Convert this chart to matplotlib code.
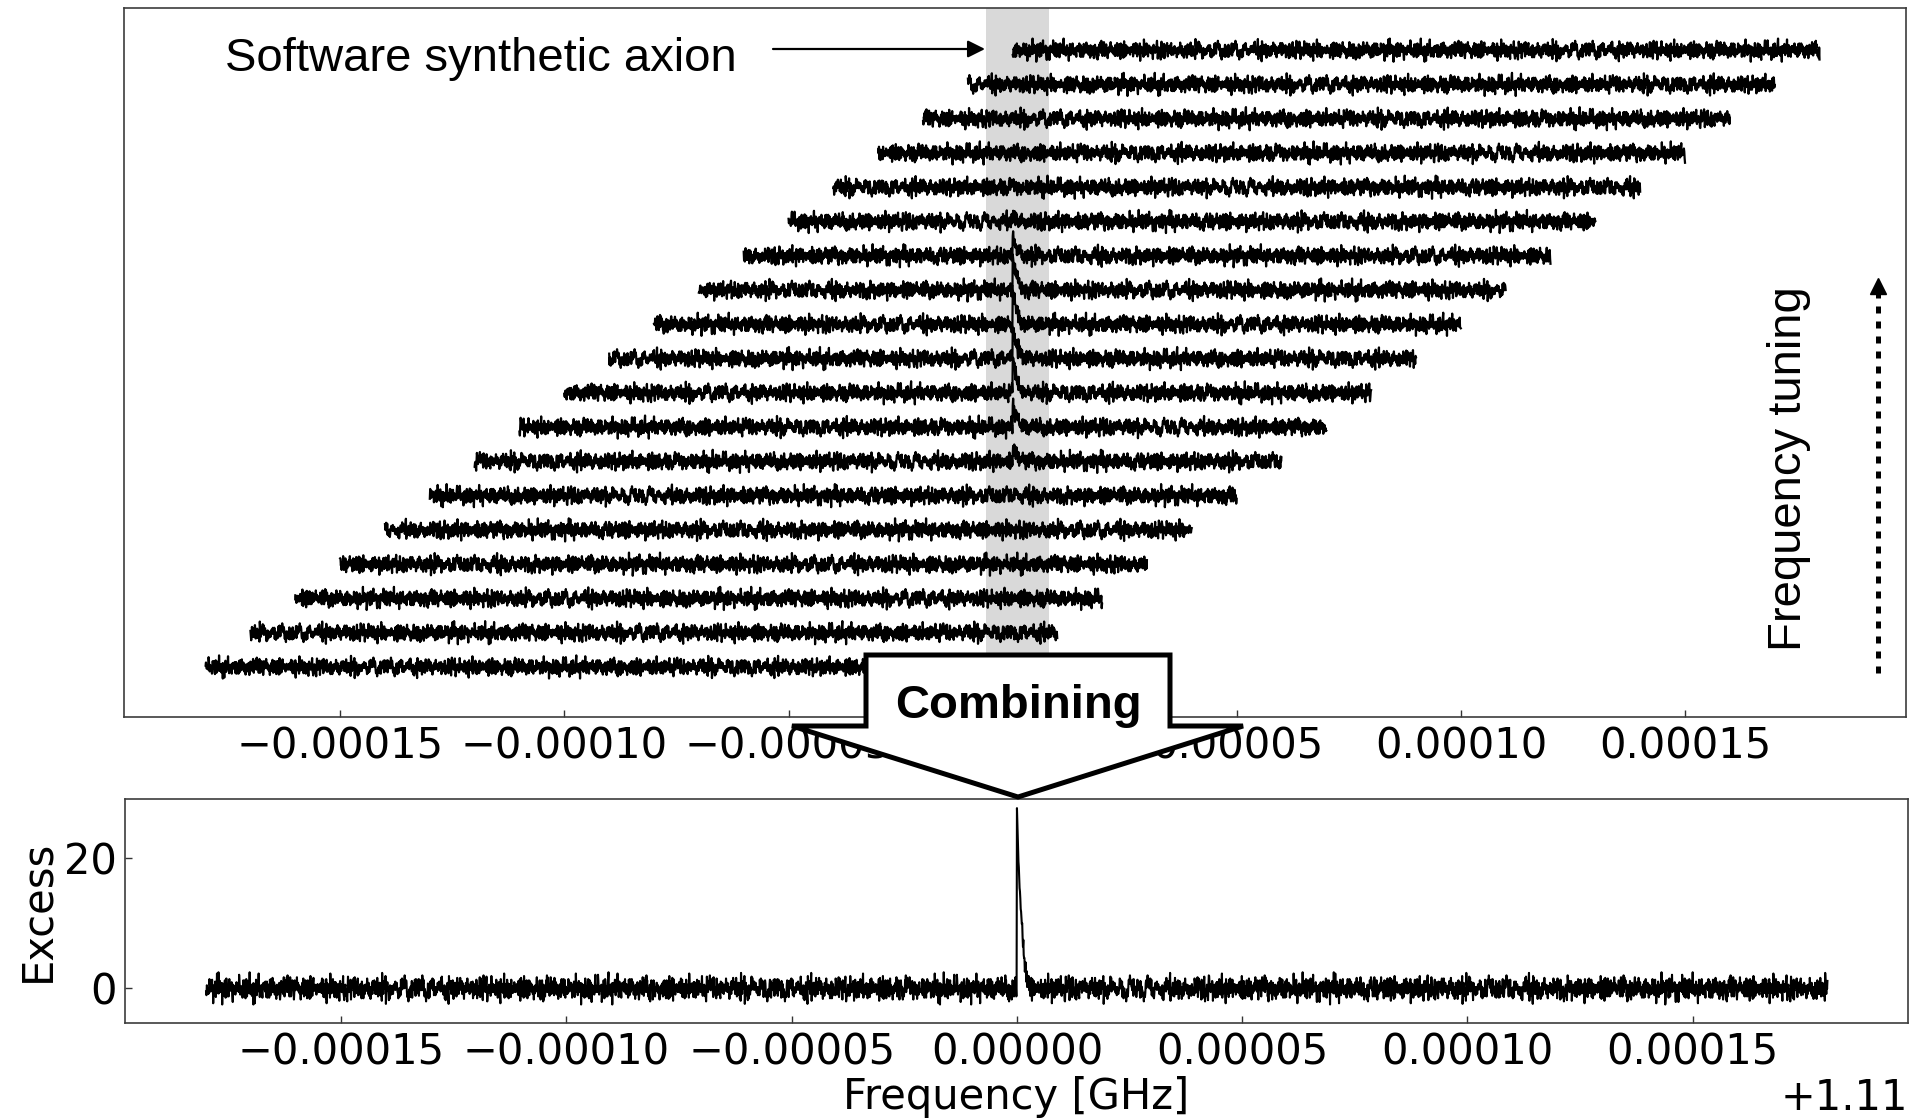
import numpy as np
import matplotlib
matplotlib.use("Agg")
import matplotlib.pyplot as plt
from matplotlib.patches import Polygon, FancyArrowPatch
from matplotlib.lines import Line2D
from matplotlib.ticker import ScalarFormatter

# ---------------------------------------------------------------- data
F0_GHZ = 1.11                      # frequency offset shown on the axis
SCAN_START_KHZ = [-180, -170, -160, -150, -140, -130, -120, -110, -100, -90,
                  -80, -70, -60, -50, -40, -30, -20, -10, 0]
SCAN_SPAN_KHZ = 180
BIN_KHZ = 1 / 12

# relative height of the injected signal in each tuning step (bottom -> top)
PEAK_AMP = [0.0, 0.0, 0.0, 0.0, 0.0, 0.1, 0.45, 0.75, 1.0, 1.05,
            1.0, 0.95, 0.55, 0.2, 0.0, 0.0, 0.0, 0.0, 0.0]
# signal line shape, one value per bin starting at the axion frequency
PEAK_SHAPE = [1.0, 0.92, 0.85, 0.78, 0.72, 0.67, 0.62, 0.57, 0.53, 0.49,
              0.45, 0.41, 0.38, 0.35, 0.32, 0.29, 0.26, 0.235, 0.21, 0.185,
              0.16, 0.14, 0.12, 0.105, 0.09, 0.075, 0.06, 0.05, 0.04, 0.03,
              0.02, 0.015, 0.01]
COMBINED_PEAK = 27.6               # excess of the combined spectrum
COMBINED_RANGE_KHZ = (-180, 180)

BAND_KHZ = (-6, 8)                 # shaded region around the signal
XTICKS_KHZ = [-150, -100, -50, 0, 50, 100, 150]
YTICKS_EXCESS = [0, 20]

# measured baseline fluctuations (tenths of one standard deviation)
NOISE = [
    3, -8, 12, 5, -2, -14, 7, 0, -6, 18, 4, 9, -11, -4, -1, 15, -7, 2, -19, 6,
    10, 4, -9, 13, 1, -5, -8, -16, 11, -2, 3, 21, -8, -1, 6, -12, 4, 9, 3, -7,
    14, -10, 2, 5, -24, 8, -1, 12, 6, 3, 7, -13, 0, 17, -4, -9, -6, 1, -15, 10,
    -2, 4, 26, -5, -11, 7, 2, -8, 13, 3, 9, -1, -17, 5, 11, -6, 0, 8, -12, -3,
    16, -7, -2, 10, -20, 4, 6, -9, 1, 12, -4, 7, -14, 2, 19, -3, -8, 5, 9, -1,
    -6, 13, 3, -10, 0, 8, -5, 15, -12, 4, 2, -18, 7, 10, -3, -7, 11, 1, -13, 6,
    22, -2, -9, 4, 8, -15, 3, 12, -6, 0, 5, -11, 9, -4, 14, -8, 1, 7, -21, 10,
    -1, 6, -5, 17, -9, 2, 11, -3, -14, 8, 4, -7, 13, 0, -10, 5, 9, -2, 16, -12,
    3, -6, 20, 1, -8, 7, -4, 10, -16, 2, 12, -1, -9, 6, 15, -5, -3, 8, -13, 4,
    0, 11, -7, 24, -2, -11, 5, 9, -4, 13, -18, 3, 7, -6, 1, 10, -15, 6, -3, 18,
    -8, 2, 12, -10, 4, -5, 9, 0, -12, 14, 3, -7, 8, -2, -17, 11, 5, -4, 6, -9,
    16, -1, -6, 10, 2, -14, 7, -3, 13, -8, 1, 21, -5, 4, -11, 9, -2, 6, -16, 12,
    -4, 3, 8, -9, 15, -1, -7, 11, 0, -13, 5, 2, -20, 10, 7, -6, 14, -3, 1, -10,
    9, -5, 17, 4, -12, 6, -2, 11, -8, 3, -15, 13, 0, 7, -4, 25, -9, 2, 5, -11,
    8, -3, 12, -7, 1, 16, -6, 4, -13, 9, -1, 6, -18, 10, 3, -5, 14, -8, 2, -2,
]

# ---------------------------------------------------------------- helpers
W, H = 1916, 1120
fig = plt.figure(figsize=(W / 100, H / 100), dpi=100)


def fx(x):
    return x / W


def fy(y):
    return 1 - y / H


def khz_to_ghz(k):
    return F0_GHZ + np.asarray(k, dtype=float) * 1e-6


base_noise = np.asarray(NOISE, dtype=float) / 10.0
# sixteen reordered copies of the fluctuation table, interleaved bin by bin
noise_variants = []
for j in range(16):
    v = base_noise[::-1] if j % 2 else base_noise
    v = -v if (j // 2) % 2 else v
    noise_variants.append(np.roll(v, 47 * j))


def fluctuations(length, shift):
    cols = [np.roll(v, shift + 13 * j) for j, v in enumerate(noise_variants)]
    seq = np.stack(cols, axis=1).ravel()
    return seq[:length]


shape = np.asarray(PEAK_SHAPE)

ax_top = fig.add_axes([fx(124), fy(717), fx(1906) - fx(124), fy(8) - fy(717)])
ax_bot = fig.add_axes([fx(125), fy(1023), fx(1908) - fx(125), fy(799) - fy(1023)])

# ---------------------------------------------------------------- top: individual scans
ax_top.axvspan(*khz_to_ghz(BAND_KHZ), color="#d9d9d9", lw=0, zorder=0)
n_bins = int(round(SCAN_SPAN_KHZ / BIN_KHZ))
for i, start in enumerate(SCAN_START_KHZ):
    f_khz = start + np.arange(n_bins) * BIN_KHZ
    y = i + 0.13 * fluctuations(n_bins, 37 * i)
    k0 = int(round(-start / BIN_KHZ))
    if 0 <= k0 < n_bins and PEAK_AMP[i] > 0:
        k1 = min(n_bins, k0 + len(shape))
        y[k0:k1] += PEAK_AMP[i] * shape[: k1 - k0]
    ax_top.plot(khz_to_ghz(f_khz), y, color="black", lw=1.6, zorder=2)

ax_top.set_xlim(khz_to_ghz(-198.2), khz_to_ghz(199.2))
ax_top.set_ylim(-1.46, 19.23)

# ---------------------------------------------------------------- bottom: combined spectrum
n_comb = int(round((COMBINED_RANGE_KHZ[1] - COMBINED_RANGE_KHZ[0]) / BIN_KHZ))
f_comb = COMBINED_RANGE_KHZ[0] + np.arange(n_comb) * BIN_KHZ
fluct_c = fluctuations(n_comb, 5)
excess = 0.95 * fluct_c
k0 = int(round(-COMBINED_RANGE_KHZ[0] / BIN_KHZ))
seg = slice(k0, k0 + len(shape))
excess[seg] = COMBINED_PEAK * shape + 0.95 * fluct_c[seg] * (1 - shape)
ax_bot.plot(khz_to_ghz(f_comb), excess, color="black", lw=1.5)
ax_bot.set_xlim(khz_to_ghz(-198.0), khz_to_ghz(197.8))
ax_bot.set_ylim(-5.3, 29.0)
ax_bot.set_yticks(YTICKS_EXCESS)
ax_bot.set_ylabel("Excess", fontsize=30)
ax_bot.set_xlabel("Frequency [GHz]", fontsize=30, labelpad=2)

# ---------------------------------------------------------------- axes styling
for ax in (ax_top, ax_bot):
    ax.set_xticks(khz_to_ghz(XTICKS_KHZ))
    ax.xaxis.set_major_formatter(ScalarFormatter(useOffset=F0_GHZ))
    ax.tick_params(direction="in", length=5, width=1, labelsize=30,
                   color="#333333", pad=6)
    for sp in ax.spines.values():
        sp.set_color("#3c3c3c")
        sp.set_linewidth(1.2)
    ax.xaxis.get_offset_text().set_fontsize(30)

ax_top.tick_params(left=False, labelleft=False)
ax_top.xaxis.get_offset_text().set_visible(False)

# ---------------------------------------------------------------- annotations
label_font = "Liberation Sans"
fig.text(fx(225), fy(71), "Software synthetic axion", fontsize=34,
         family=label_font, ha="left", va="baseline")
fig.add_artist(FancyArrowPatch(
    (fx(773), fy(49)), (fx(985), fy(49)), transform=fig.transFigure,
    arrowstyle="-|>", mutation_scale=26, lw=1.6, color="black",
    shrinkA=0, shrinkB=0))

fig.text(fx(1789), fy(469), "Frequency tuning", fontsize=34, family=label_font,
         rotation=90, ha="center", va="center")
fig.add_artist(Line2D([fx(1878), fx(1878)], [fy(673), fy(292)],
                      transform=fig.transFigure, color="black", lw=3.6,
                      linestyle=(0, (1.4, 1.6))))
fig.add_artist(Line2D([fx(1878)], [fy(286)], transform=fig.transFigure,
                      marker="^", markersize=12, color="black", lw=0))

# block arrow joining the two panels
arrow_px = [(866, 655), (1170, 655), (1170, 726), (1243, 726), (1018, 797),
            (792, 726), (866, 726)]
fig.add_artist(Polygon([(fx(x), fy(y)) for x, y in arrow_px], closed=True,
                       transform=fig.transFigure, facecolor="white",
                       edgecolor="black", lw=3.6, joinstyle="miter", zorder=10))
fig.text(fx(1018), fy(718), "Combining", fontsize=34, fontweight="bold",
         family=label_font, ha="center", va="baseline", zorder=11)

fig.savefig("out.png", dpi=100)
